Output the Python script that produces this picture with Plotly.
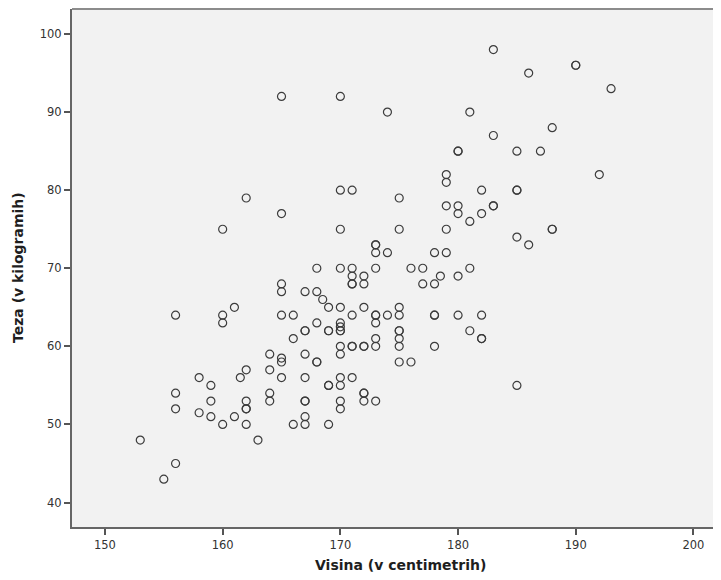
import plotly.graph_objects as go

# Height (cm) and weight (kg) values
visina = [183, 186, 190, 190, 193, 165, 170, 174, 181, 188, 183, 180, 180, 185, 187,
          192, 179, 179, 170, 171, 182, 185, 185, 162, 175, 179, 180, 183, 183, 165,
          180, 182, 181, 160, 170, 175, 179, 188, 188, 185, 186, 173, 173, 173, 174,
          178, 179, 168, 170, 171, 173, 176, 177, 181, 171, 172, 178.5, 180, 165, 171,
          171, 172, 177, 178, 165, 167, 168, 168.5, 161, 169, 170, 172, 175, 156,
          160, 165, 166, 171, 173, 173, 174, 175, 178, 178, 180, 182, 160, 168, 170,
          173, 167, 167, 169, 169, 170, 170, 170, 175, 175, 181, 166, 173, 175, 182,
          182, 170, 171, 171, 172, 172, 173, 175, 178, 164, 167, 170, 165, 165, 168,
          168, 175, 176, 162, 164, 158, 161.5, 165, 167, 170, 171, 159, 169, 169, 170,
          185, 156, 164, 172, 172, 159, 162, 164, 167, 167, 170, 172, 173, 156, 162,
          162, 170, 158, 159, 161, 167, 160, 162, 166, 167, 169, 153, 163, 156, 155]
teza = [98, 95, 96, 96, 93, 92, 92, 90, 90, 88, 87, 85, 85, 85, 85,
        82, 82, 81, 80, 80, 80, 80, 80, 79, 79, 78, 78, 78, 78, 77,
        77, 77, 76, 75, 75, 75, 75, 75, 75, 74, 73, 73, 73, 72, 72,
        72, 72, 70, 70, 70, 70, 70, 70, 70, 69, 69, 69, 69, 68, 68,
        68, 68, 68, 68, 67, 67, 67, 66, 65, 65, 65, 65, 65, 64,
        64, 64, 64, 64, 64, 64, 64, 64, 64, 64, 64, 64, 63, 63, 63,
        63, 62, 62, 62, 62, 62, 62.5, 62, 62, 62, 62, 61, 61, 61, 61,
        61, 60, 60, 60, 60, 60, 60, 60, 60, 59, 59, 59, 58.5, 58, 58,
        58, 58, 58, 57, 57, 56, 56, 56, 56, 56, 56, 55, 55, 55, 55,
        55, 54, 54, 54, 54, 53, 53, 53, 53, 53, 53, 53, 53, 52, 52,
        52, 52, 51.5, 51, 51, 51, 50, 50, 50, 50, 50, 48, 48, 45, 43]

x_ticks = [150, 160, 170, 180, 190, 200]
y_ticks = [40, 50, 60, 70, 80, 90, 100]
x_title = "Visina (v centimetrih)"
y_title = "Teza (v kilogramih)"

fig = go.Figure(go.Scatter(
    x=visina, y=teza, mode="markers",
    marker=dict(symbol="circle-open", size=8, color="#3c3c3c",
                line=dict(width=1.2, color="#3c3c3c")),
    hoverinfo="x+y"
))

tick_font = dict(size=11.5, color="#333333", family="DejaVu Sans, sans-serif")

# The page adds an 8px body margin, so the figure is sized to fit inside the window
W, H = 713, 572
L, R, T, B = 64, 0, 1, 53
fig.update_layout(
    width=W, height=H,
    margin=dict(l=L, r=R, t=T, b=B),
    paper_bgcolor="white", plot_bgcolor="#F2F2F2",
    showlegend=False,
    font=dict(family="DejaVu Sans, sans-serif", color="#333333"),
)
fig.update_xaxes(
    range=[147.2, 202.34], tickvals=x_ticks, showgrid=False, zeroline=False,
    showline=True, linecolor="#666666", linewidth=2, ticks="outside",
    ticklen=6, tickwidth=1.5, tickcolor="#555555", automargin=False,
    tickfont=tick_font,
)
fig.update_yaxes(
    range=[36.87, 103.2], tickvals=y_ticks, showgrid=False, zeroline=False,
    showline=True, linecolor="#666666", linewidth=2, ticks="outside",
    ticklen=6, tickwidth=1.5, tickcolor="#555555", automargin=False,
    tickfont=tick_font,
)
fig.add_shape(type="line", xref="paper", yref="paper", x0=0, x1=1, y0=1, y1=1,
              line=dict(color="#8c8c8c", width=2))

pw, ph = W - L - R, H - T - B
title_font = dict(size=14, color="#1e1e1e", family="DejaVu Sans, sans-serif")
fig.add_annotation(text="<b>" + x_title + "</b>", xref="paper", yref="paper",
                   x=(392 - L) / pw, y=0, yshift=-38, showarrow=False,
                   xanchor="center", yanchor="middle", font=title_font)
fig.add_annotation(text="<b>" + y_title + "</b>", xref="paper", yref="paper",
                   x=0, xshift=-54, y=(H - B - 260) / ph, showarrow=False,
                   textangle=-90, xanchor="center", yanchor="middle", font=title_font)

fig.write_html("out.html")
